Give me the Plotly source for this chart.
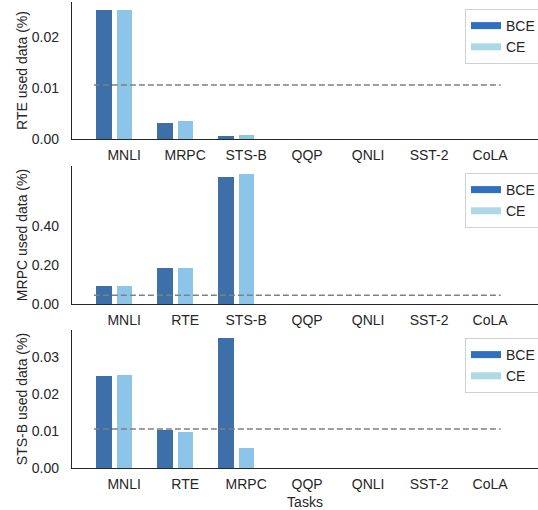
import plotly.graph_objects as go
from plotly.subplots import make_subplots

# ---- data ----
cats_rte = ["MNLI", "MRPC", "STS-B", "QQP", "QNLI", "SST-2", "CoLA"]
bce_rte = [0.02535, 0.0031, 0.0006, 0, 0, 0, 0]
ce_rte = [0.02525, 0.0035, 0.0007, 0, 0, 0, 0]
ref_rte = 0.0106

cats_mrpc = ["MNLI", "RTE", "STS-B", "QQP", "QNLI", "SST-2", "CoLA"]
bce_mrpc = [0.091, 0.183, 0.653, 0, 0, 0, 0]
ce_mrpc = [0.091, 0.185, 0.667, 0, 0, 0, 0]
ref_mrpc = 0.0446

cats_stsb = ["MNLI", "RTE", "MRPC", "QQP", "QNLI", "SST-2", "CoLA"]
bce_stsb = [0.0248, 0.0102, 0.0350, 0, 0, 0, 0]
ce_stsb = [0.0251, 0.0097, 0.0053, 0, 0, 0, 0]
ref_stsb = 0.0105

ytitles = ["RTE used data (%)", "MRPC used data (%)", "STS-B used data (%)"]
yticks = [[0, 0.01, 0.02], [0, 0.2, 0.4], [0, 0.01, 0.02, 0.03]]
yranges = [[0, 0.0269], [0, 0.708], [0, 0.0372]]

panels = [
    (cats_rte, bce_rte, ce_rte, ref_rte),
    (cats_mrpc, bce_mrpc, ce_mrpc, ref_mrpc),
    (cats_stsb, bce_stsb, ce_stsb, ref_stsb),
]

BCE_BAR = "#3d6fa8"
CE_BAR = "#8cc5e8"
BCE_LEG = "#2f6fbf"
CE_LEG = "#add8e6"
AXC = "#262626"
FONT = "Liberation Sans, Arial, sans-serif"
FS = 14

fig = make_subplots(rows=3, cols=1, shared_xaxes=False, vertical_spacing=0.05)

off = 0.165
bw = 0.25
for r, (cats, bce, ce, ref) in enumerate(panels, start=1):
    idx = list(range(len(cats)))
    fig.add_trace(go.Bar(x=[i - off for i in idx], y=bce, width=bw,
                         marker=dict(color=BCE_BAR, line=dict(width=0)),
                         showlegend=False, hoverinfo="y"), row=r, col=1)
    fig.add_trace(go.Bar(x=[i + off for i in idx], y=ce, width=bw,
                         marker=dict(color=CE_BAR, line=dict(width=0)),
                         showlegend=False, hoverinfo="y"), row=r, col=1)
    leg = "legend" if r == 1 else f"legend{r}"
    fig.add_trace(go.Scatter(x=[None], y=[None], mode="lines", name="BCE",
                             line=dict(color=BCE_LEG, width=7), legend=leg), row=r, col=1)
    fig.add_trace(go.Scatter(x=[None], y=[None], mode="lines", name="CE",
                             line=dict(color=CE_LEG, width=7), legend=leg), row=r, col=1)
    xr = "x" if r == 1 else f"x{r}"
    yr = "y" if r == 1 else f"y{r}"
    fig.add_shape(type="line", xref=f"{xr} domain", yref=yr, x0=0.047, x1=0.92,
                  y0=ref, y1=ref, line=dict(color="#808080", width=1.6, dash="6px,3px"),
                  layer="above")
    fig.update_xaxes(row=r, col=1, range=[-0.69, 6.95], tickvals=[i + off for i in idx],
                     ticktext=cats, showline=True, linecolor=AXC, linewidth=1.3,
                     showgrid=False, zeroline=False, ticks="", ticklabelstandoff=3,
                     automargin=False,
                     tickfont=dict(size=FS, color=AXC, family=FONT))
    fig.update_yaxes(row=r, col=1, range=yranges[r - 1], tickvals=yticks[r - 1],
                     tickformat=".2f", showline=True, linecolor=AXC, linewidth=1.3,
                     showgrid=False, zeroline=False, ticks="", ticklabelstandoff=9,
                     automargin=False,
                     tickfont=dict(size=FS, color=AXC, family=FONT),
                     title=dict(text=ytitles[r - 1], font=dict(size=FS, color=AXC, family=FONT),
                                standoff=0))

fig.update_xaxes(row=3, col=1, title=dict(text="Tasks", font=dict(size=FS, color=AXC, family=FONT),
                                          standoff=10))

# domains
H_top, H_bot = 2, 468
span = H_bot - H_top
def dom(top_px, bot_px):
    return [max(0, (H_bot - bot_px) / span), min(1, (H_bot - top_px) / span)]

fig.update_layout(
    yaxis=dict(domain=dom(2, 139)),
    yaxis2=dict(domain=dom(166, 304)),
    yaxis3=dict(domain=dom(330, 468)),
)

legstyle = dict(xanchor="right", x=(541 - 72) / 466, yanchor="top", bgcolor="white",
                bordercolor="#d0d0d0", borderwidth=1,
                font=dict(size=FS, color=AXC, family=FONT), itemwidth=30,
                tracegroupgap=0)
fig.update_layout(
    legend=dict(y=(H_bot - 9) / span, **legstyle),
    legend2=dict(y=(H_bot - 173) / span, **legstyle),
    legend3=dict(y=(H_bot - 338) / span, **legstyle),
)

fig.update_layout(
    width=538, height=510,
    margin=dict(l=72, r=0, t=H_top, b=510 - H_bot, autoexpand=False),
    paper_bgcolor="white", plot_bgcolor="white",
    bargap=0, font=dict(family=FONT, color=AXC, size=FS),
)

fig.write_html("out.html", config={"displayModeBar": False},
               post_script="document.body.style.margin='0';document.body.style.overflow='hidden';")
